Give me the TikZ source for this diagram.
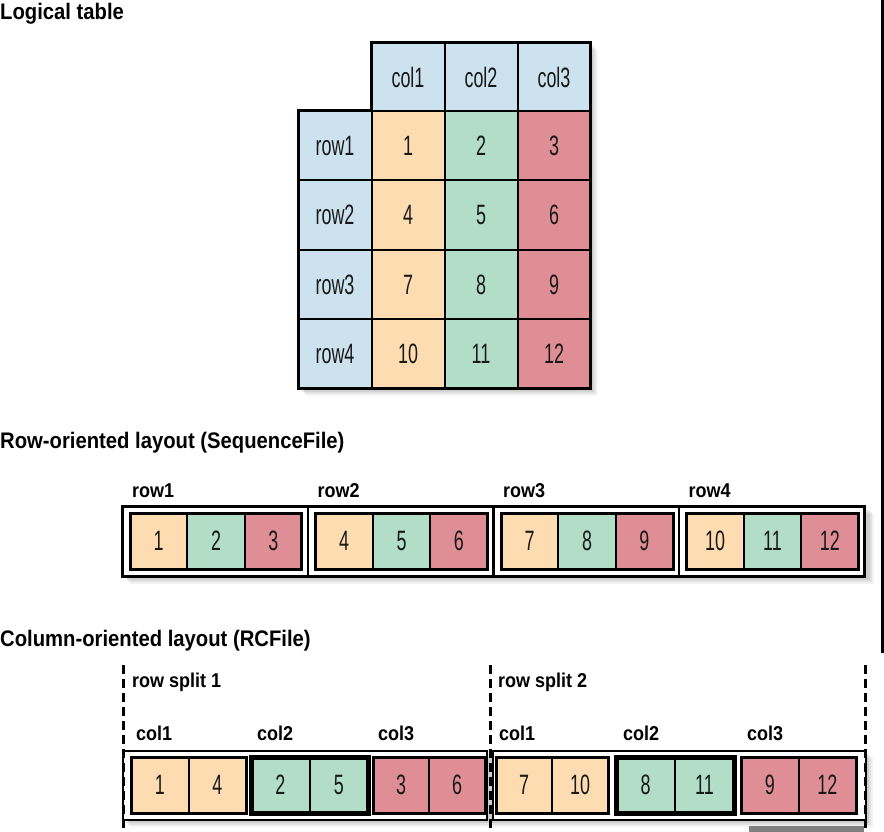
\documentclass[tikz,border=0pt]{standalone}
\usepackage{fontspec}
\setmainfont{Liberation Sans}
\newfontfamily\cellfont{Liberation Sans}[FakeStretch=0.64]
\newfontfamily\headfont{Liberation Sans}[FakeStretch=0.9]
\definecolor{hdblue}{RGB}{205,226,239}
\definecolor{peach}{RGB}{253,220,177}
\definecolor{mint}{RGB}{178,221,199}
\definecolor{rose}{RGB}{222,142,148}
\tikzset{
  cell/.style={draw=black, line width=2pt, inner sep=0pt, outer sep=0pt,
    font=\cellfont\fontsize{28}{28}\selectfont, text=black!90},
  outbox/.style={draw=black, line width=2.5pt, fill=white, inner sep=0pt, outer sep=0pt},
  grpline/.style={draw=black, line width=3pt},
  lbl/.style={inner sep=0pt, font=\headfont\bfseries\fontsize{20}{20}\selectfont},
  title/.style={inner sep=0pt, font=\headfont\bfseries\fontsize{22.5}{22.5}\selectfont},
  splitline/.style={draw=black, line width=3pt, dash pattern=on 9pt off 5pt},
}
\begin{document}
\begin{tikzpicture}[x=1pt,y=-1pt]
\useasboundingbox (0,0) rectangle (884,832);

% ---------- titles ----------
\node[title, anchor=base west] (t-logical) at (0,20) {Logical table};
\node[title, anchor=base west] (t-row) at (0,448) {Row-oriented layout (SequenceFile)};
\node[title, anchor=base west] (t-col) at (0,646) {Column-oriented layout (RCFile)};

% ---------- logical table ----------
\foreach \s/\o in {7/0.05,5/0.07,3/0.09}{
  \fill[black,opacity=\o,shift={(\s,\s)}] (371.5,43)--(590.5,43)--(590.5,388.6)--(298.5,388.6)--(298.5,111)--(371.5,111)--cycle;
}
\foreach \c in {1,2,3}{
  \pgfmathsetmacro\cx{298.5+73*\c+36.5}
  \node[cell, fill=hdblue, minimum width=73pt, minimum height=68pt] (lt-h-\c) at (\cx,77) {col\c};
}
\foreach \r in {1,...,4}{
  \pgfmathsetmacro\cy{111+69.4*(\r-1)+34.7}
  \node[cell, fill=hdblue, minimum width=73pt, minimum height=69.4pt] (lt-r-\r) at (335,\cy) {row\r};
  \foreach \c/\colr in {1/peach,2/mint,3/rose}{
    \pgfmathtruncatemacro\v{3*(\r-1)+\c}
    \pgfmathsetmacro\cx{298.5+73*\c+36.5}
    \node[cell, fill=\colr, minimum width=73pt, minimum height=69.4pt] (lt-\r-\c) at (\cx,\cy) {\v};
  }
}
\draw[line width=3pt, line join=miter] (lt-h-1.north west) -- (lt-h-3.north east) -- (lt-4-3.south east)
  -- (lt-r-4.south west) -- (lt-r-1.north west) -- (lt-h-1.south west) -- cycle;

% ---------- row-oriented layout ----------
\foreach \s/\o in {7/0.05,5/0.07,3/0.09}{
  \fill[black,opacity=\o,shift={(\s,\s)}] (122.5,506.5) rectangle (866.5,576.5);
}
\foreach \k in {0,...,3}{
  \pgfmathsetmacro\L{122.5+185.5*\k}
  \pgfmathtruncatemacro\rn{\k+1}
  \pgfmathtruncatemacro\va{3*\k+1}
  \pgfmathtruncatemacro\vc{3*\k+3}
  \node[outbox, minimum width=185.5pt, minimum height=70pt, anchor=north west] (rl-box-\rn) at (\L,506.5) {};
  \node[lbl, anchor=base west] (rl-lab-\rn) at (\L+9.5,497) {row\rn};
  \foreach \j/\colr in {0/peach,1/mint,2/rose}{
    \pgfmathtruncatemacro\v{3*\k+\j+1}
    \pgfmathsetmacro\cx{\L+7.5+57.33*\j+28.67}
    \node[cell, fill=\colr, minimum width=57.33pt, minimum height=56pt] (rl-\v) at (\cx,541) {\v};
  }
  \draw[grpline] (rl-\va.north west) rectangle (rl-\vc.south east);
}

% ---------- column-oriented layout ----------
\foreach \s/\o in {7/0.05,5/0.07,3/0.09}{
  \fill[black,opacity=\o,shift={(\s,\s)}] (123,751) rectangle (866,820);
}
\node[outbox, line width=2pt, minimum width=364pt, minimum height=69pt, anchor=north west] (rc-split-1) at (123,751) {};
\node[outbox, line width=2pt, minimum width=373pt, minimum height=69pt, anchor=north west] (rc-split-2) at (493,751) {};

\foreach \gl/\gr/\a/\b/\colr/\th in {131/246/1/4/peach/3, 251/368/2/5/mint/5, 373/485/3/6/rose/3,
                                      496/608/7/10/peach/3, 616/734/8/11/mint/5, 741/856/9/12/rose/3}{
  \pgfmathsetmacro\w{(\gr-\gl)/2}
  \pgfmathsetmacro\xa{\gl+\w/2}
  \pgfmathsetmacro\xb{\gl+1.5*\w}
  \node[cell, fill=\colr, minimum width=\w pt, minimum height=56pt] (rc-\a) at (\xa,785) {\a};
  \node[cell, fill=\colr, minimum width=\w pt, minimum height=56pt] (rc-\b) at (\xb,785) {\b};
  \draw[draw=black, line width=\th pt] (rc-\a.north west) rectangle (rc-\b.south east);
}

\node[lbl, anchor=base west] (rs-1) at (132,687) {row split 1};
\node[lbl, anchor=base west] (rs-2) at (498,687) {row split 2};
\foreach \x/\n/\s in {136/1/1, 257/2/1, 378/3/1, 499/1/2, 623/2/2, 747/3/2}{
  \node[lbl, anchor=base west] (rc-lab-\s-\n) at (\x,740) {col\n};
}

% split dividers
\foreach \x/\n in {123/a, 490/b, 865/c}{
  \coordinate (sp-top-\n) at (\x,665);
  \coordinate (sp-bot-\n) at (\x,832);
  \draw[splitline] (sp-top-\n) -- (sp-bot-\n);
}

% edge artefacts of the original
\coordinate (edge-top) at (882.5,0);
\coordinate (edge-bot) at (882.5,653);
\draw[line width=2.5pt] (edge-top) -- (edge-bot);
\fill[black!50] (749,826) rectangle (864,832);
\end{tikzpicture}
\end{document}
